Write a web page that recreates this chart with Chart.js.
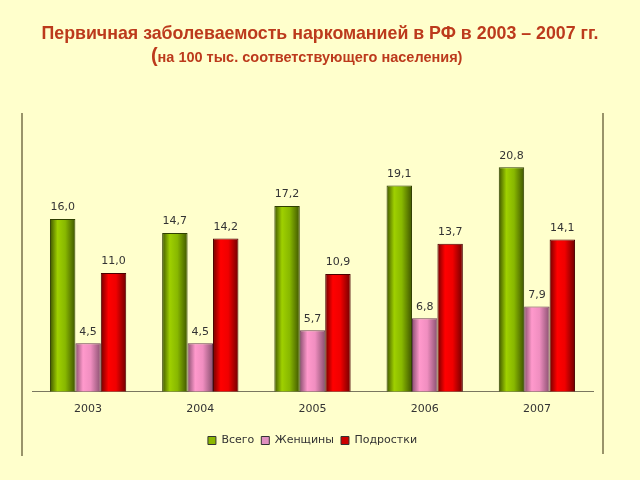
<!DOCTYPE html>
<html lang="ru">
<head>
    <meta charset="UTF-8">
    <title>Первичная заболеваемость наркоманией</title>
    <script src="https://cdn.jsdelivr.net/npm/chart.js"></script>
    <style>
        html, body { margin: 0; padding: 0; background: #FFFFCC; }
        #wrap { width: 640px; height: 480px; position: relative; }
    </style>
</head>
<body>
    <div id="wrap">
        <canvas id="chart" width="640" height="480"></canvas>
    </div>

    <script>
        // данные
        const years = ["2003", "2004", "2005", "2006", "2007"];
        const vsego = [16.0, 14.7, 17.2, 19.1, 20.8];
        const zhenshchiny = [4.5, 4.5, 5.7, 6.8, 7.9];
        const podrostki = [11.0, 14.2, 10.9, 13.7, 14.1];
        const seriesNames = ["Всего", "Женщины", "Подростки"];

        const titleText = "Первичная заболеваемость наркоманией в РФ в 2003 – 2007 гг.";
        const subtitleText = "на 100 тыс. соответствующего населения)";

        const GROUP = 0.68;

        // градиент по ширине столбика: тёмный край - светлая середина - тёмный край
        const barGradient = (dark, light, mid) => (ctx) => {
            const chart = ctx.chart;
            const xs = chart.scales.x;
            if (!xs || ctx.dataIndex === undefined) return light;
            const cat = xs.width / years.length;
            const w = cat * GROUP / 3;
            const cx = xs.getPixelForValue(ctx.dataIndex) + (ctx.datasetIndex - 1) * w;
            const g = chart.ctx.createLinearGradient(cx - w / 2, 0, cx + w / 2, 0);
            g.addColorStop(0, dark);
            g.addColorStop(0.3, light);
            g.addColorStop(0.6, mid);
            g.addColorStop(1, dark);
            return g;
        };

        const framePlugin = {
            id: "frame",
            beforeDraw(chart) {
                const c = chart.ctx;
                c.save();
                c.fillStyle = "#FFFFCC";
                c.fillRect(0, 0, chart.width, chart.height);

                c.strokeStyle = "#99946a";
                c.lineWidth = 2;
                c.beginPath();
                c.moveTo(22, 113); c.lineTo(22, 456);
                c.moveTo(603, 113); c.lineTo(603, 454);
                c.stroke();

                c.fillStyle = "#BC3A1C";
                c.textAlign = "center";
                c.textBaseline = "middle";
                c.font = "bold 17.8px 'Liberation Sans', Arial, sans-serif";
                c.fillText(titleText, 320, 34);
                c.font = "bold 14.5px 'Liberation Sans', Arial, sans-serif";
                const w = c.measureText(subtitleText).width;
                c.textAlign = "left";
                c.fillText(subtitleText, 310 - w / 2, 58);
                c.font = "bold 20px 'Liberation Sans', Arial, sans-serif";
                c.textAlign = "right";
                c.fillText("(", 310 - w / 2, 56);
                c.restore();
            },
            afterDatasetsDraw(chart) {
                const c = chart.ctx;
                c.save();
                c.fillStyle = "#333333";
                c.font = "11px 'DejaVu Sans', sans-serif";
                c.textAlign = "center";
                c.textBaseline = "bottom";
                chart.data.datasets.forEach((ds, i) => {
                    chart.getDatasetMeta(i).data.forEach((bar, j) => {
                        const txt = ds.data[j].toFixed(1).replace(".", ",");
                        c.fillText(txt, bar.x, bar.y - 6);
                    });
                });
                c.restore();
            }
        };

        new Chart(document.getElementById("chart"), {
            type: "bar",
            data: {
                labels: years,
                datasets: [
                    {
                        label: seriesNames[0],
                        data: vsego,
                        backgroundColor: barGradient("#3f5500", "#9fd000", "#88b800"),
                        borderColor: "#2f3f00",
                        borderWidth: 1,
                        legendColor: "#8cb800"
                    },
                    {
                        label: seriesNames[1],
                        data: zhenshchiny,
                        backgroundColor: barGradient("#8a5070", "#ff99cc", "#f08ec0"),
                        borderColor: "#6a3a55",
                        borderWidth: 1,
                        legendColor: "#e090c0"
                    },
                    {
                        label: seriesNames[2],
                        data: podrostki,
                        backgroundColor: barGradient("#700000", "#ff0000", "#f00000"),
                        borderColor: "#4a0000",
                        borderWidth: 1,
                        legendColor: "#cc0000"
                    }
                ]
            },
            options: {
                responsive: false,
                animation: false,
                layout: { padding: { top: 111, left: 32, right: 47, bottom: 24 } },
                datasets: {
                    bar: { barPercentage: 1, categoryPercentage: GROUP }
                },
                scales: {
                    x: {
                        grid: { display: false },
                        border: { display: true, color: "#7a7760", width: 1 },
                        ticks: { color: "#333333", font: { family: "'DejaVu Sans', sans-serif", size: 11 }, padding: 3 },
                        // место между подписями лет и легендой
                        afterFit(scale) { scale.height += 9; }
                    },
                    y: {
                        display: false,
                        min: 0,
                        max: 26
                    }
                },
                plugins: {
                    title: { display: false },
                    tooltip: { enabled: false },
                    legend: {
                        position: "bottom",
                        labels: {
                            color: "#333333",
                            font: { family: "'DejaVu Sans', sans-serif", size: 11 },
                            boxWidth: 8,
                            boxHeight: 8,
                            padding: 7,
                            generateLabels(chart) {
                                return chart.data.datasets.map((ds, i) => ({
                                    text: ds.label,
                                    fillStyle: ds.legendColor,
                                    strokeStyle: "#333333",
                                    lineWidth: 1,
                                    fontColor: "#333333",
                                    datasetIndex: i
                                }));
                            }
                        }
                    }
                }
            },
            plugins: [framePlugin]
        });
    </script>
</body>
</html>
